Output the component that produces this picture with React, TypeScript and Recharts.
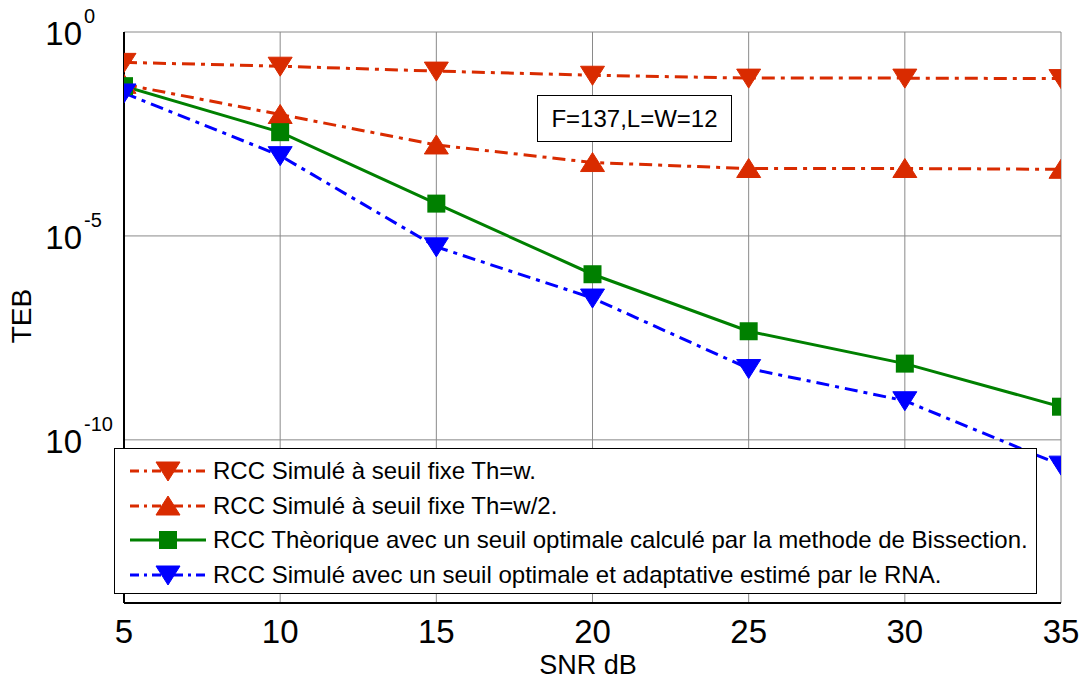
import React from 'react';
import { LineChart, Line, XAxis, YAxis, CartesianGrid, Legend } from 'recharts';

const snr = [5, 10, 15, 20, 25, 30, 35];
const tebFixeW = [0.18, 0.145, 0.11, 0.087, 0.074, 0.074, 0.072];
const tebFixeW2 = [0.052, 9.5e-3, 1.7e-3, 6.3e-4, 4.5e-4, 4.5e-4, 4.3e-4];
const tebTheorique = [0.047, 3.5e-3, 6.2e-5, 1.15e-6, 4.6e-8, 7.4e-9, 6.5e-10];
const tebRNA = [0.032, 9.3e-4, 5.4e-6, 3.0e-7, 5.6e-9, 9.1e-10, 2.4e-11];

const xTicks = [5, 10, 15, 20, 25, 30, 35];
const yTicks = [1e-10, 1e-5, 1];
const annotation = 'F=137,L=W=12';

const seriesNames = [
  'RCC Simulé à seuil fixe Th=w.',
  'RCC Simulé à seuil fixe Th=w/2.',
  'RCC Thèorique avec un seuil optimale calculé par la methode de Bissection.',
  'RCC Simulé avec un seuil optimale et adaptative estimé par le RNA.',
];
const seriesKeys = ['fixeW', 'fixeW2', 'theo', 'rna'];
const seriesColors = ['#D92B00', '#D92B00', '#008000', '#0000FF'];
const seriesDash = ['13 6 4 6', '13 6 4 6', undefined, '13 6 4 6'];
const seriesMarkers = ['down', 'up', 'square', 'down'];

const data = snr.map((s, i) => ({
  snr: s,
  fixeW: tebFixeW[i],
  fixeW2: tebFixeW2[i],
  theo: tebTheorique[i],
  rna: tebRNA[i],
}));

const FONT = '"Liberation Sans", Arial, sans-serif';

function markerShape(kind: string, cx: number, cy: number, color: string, key?: any) {
  if (kind === 'down') {
    return (
      <polygon key={key} points={`${cx - 12},${cy - 9} ${cx + 12},${cy - 9} ${cx},${cy + 10}`} fill={color} stroke={color} strokeWidth={1} />
    );
  }
  if (kind === 'up') {
    return (
      <polygon key={key} points={`${cx - 12},${cy + 9} ${cx + 12},${cy + 9} ${cx},${cy - 10}`} fill={color} stroke={color} strokeWidth={1} />
    );
  }
  return <rect key={key} x={cx - 9} y={cy - 9} width={18} height={18} fill={color} />;
}

const makeDot = (kind: string, color: string) => (props: any) => {
  const { cx, cy, index } = props;
  if (cx == null || cy == null) return <g key={index} />;
  return markerShape(kind, cx, cy, color, index);
};

const XTick = (props: any) => {
  const { x, y, payload } = props;
  return (
    <text x={x} y={y + 38} textAnchor="middle" fontSize={33} fontFamily={FONT} fill="#000">
      {payload.value}
    </text>
  );
};

const YTick = (props: any) => {
  const { x, y, payload } = props;
  const exp = Math.round(Math.log10(payload.value));
  return (
    <g>
      <text x={x - 42} y={y + 13} textAnchor="end" fontSize={33} fontFamily={FONT} fill="#000">
        10
      </text>
      <text x={x - 40} y={y - 9} textAnchor="start" fontSize={20} fontFamily={FONT} fill="#000">
        {exp}
      </text>
    </g>
  );
};

const renderLegend = () => (
  <div
    style={{
      width: 923,
      height: 146,
      boxSizing: 'border-box',
      border: '1.5px solid #000',
      background: '#fff',
      paddingTop: 5,
      fontFamily: FONT,
    }}
  >
    {seriesNames.map((name, i) => (
      <div key={name} style={{ display: 'flex', alignItems: 'center', height: 34.5 }}>
        <svg width={76} height={30} style={{ marginLeft: 15, flex: 'none' }}>
          <line
            x1={0}
            y1={15}
            x2={76}
            y2={15}
            stroke={seriesColors[i]}
            strokeWidth={3}
            strokeDasharray={seriesDash[i] ? '9 5 3 5' : undefined}
          />
          {markerShape(seriesMarkers[i], 38, 15, seriesColors[i])}
        </svg>
        <span style={{ marginLeft: 7, fontSize: 24, color: '#000', whiteSpace: 'nowrap' }}>{name}</span>
      </div>
    ))}
  </div>
);

export default function App() {
  return (
    <div style={{ position: 'absolute', left: 0, top: 0, width: 1084, height: 681, background: '#fff' }}>
      <LineChart
        width={1084}
        height={681}
        data={data}
        margin={{ top: 32, right: 23, bottom: 0, left: 0 }}
      >
        <CartesianGrid stroke="#8a8a8a" strokeWidth={1} xAxisId="bottom" yAxisId="left" />
        <XAxis
          xAxisId="bottom"
          dataKey="snr"
          type="number"
          domain={[5, 35]}
          ticks={xTicks}
          height={78}
          tickSize={0}
          tickMargin={2}
          axisLine={{ stroke: '#000', strokeWidth: 2 }}
          tick={<XTick />}
          allowDataOverflow
        />
        <XAxis
          xAxisId="top"
          orientation="top"
          dataKey="snr"
          type="number"
          domain={[5, 35]}
          ticks={xTicks}
          height={0}
          tick={false}
          tickLine={false}
          axisLine={{ stroke: '#000', strokeWidth: 2 }}
        />
        <YAxis
          yAxisId="left"
          type="number"
          scale="log"
          domain={[1e-14, 1]}
          ticks={yTicks}
          width={124}
          tickSize={0}
          tickMargin={0}
          axisLine={{ stroke: '#000', strokeWidth: 2 }}
          tick={<YTick />}
          allowDataOverflow
        />
        <YAxis
          yAxisId="right"
          orientation="right"
          type="number"
          scale="log"
          domain={[1e-14, 1]}
          ticks={yTicks}
          width={0}
          tick={false}
          tickLine={false}
          axisLine={{ stroke: '#000', strokeWidth: 2 }}
          allowDataOverflow
        />
        {seriesKeys.map((k, i) => (
          <Line
            key={k}
            xAxisId="bottom"
            yAxisId="left"
            type="linear"
            dataKey={k}
            name={seriesNames[i]}
            stroke={seriesColors[i]}
            strokeWidth={3}
            strokeDasharray={seriesDash[i]}
            dot={makeDot(seriesMarkers[i], seriesColors[i])}
            activeDot={false}
            isAnimationActive={false}
          />
        ))}
        <Legend
          layout="horizontal"
          verticalAlign="middle"
          align="center"
          content={renderLegend}
          wrapperStyle={{ position: 'absolute', left: 114, top: 448, width: 923, height: 146, margin: 0 }}
        />
      </LineChart>
      <div
        style={{
          position: 'absolute',
          left: 537,
          top: 95,
          width: 195,
          height: 47,
          boxSizing: 'border-box',
          border: '1.5px solid #000',
          background: '#fff',
          fontFamily: FONT,
          fontSize: 24,
          display: 'flex',
          alignItems: 'center',
          justifyContent: 'center',
          color: '#000',
        }}
      >
        {annotation}
      </div>
      <div
        style={{
          position: 'absolute',
          left: 588 - 100,
          top: 650,
          width: 200,
          textAlign: 'center',
          fontFamily: FONT,
          fontSize: 27,
          color: '#000',
          lineHeight: '30px',
        }}
      >
        SNR dB
      </div>
      <div
        style={{
          position: 'absolute',
          left: 22 - 50,
          top: 316 - 15,
          width: 100,
          height: 30,
          lineHeight: '30px',
          textAlign: 'center',
          fontFamily: FONT,
          fontSize: 28,
          color: '#000',
          transform: 'rotate(-90deg)',
        }}
      >
        TEB
      </div>
    </div>
  );
}
